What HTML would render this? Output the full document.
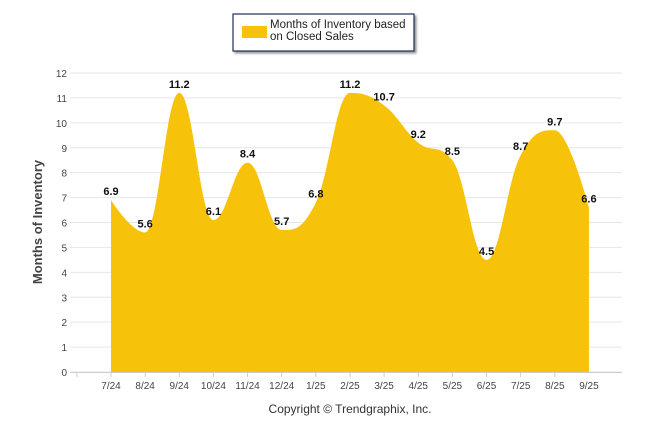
<!DOCTYPE html>
<html><head><meta charset="utf-8"><style>
body{margin:0;background:#fff;width:646px;height:434px;overflow:hidden;font-family:"Liberation Sans",Arial,sans-serif}
</style></head><body>
<svg width="646" height="434" id="c">
<rect x="233" y="14" width="181" height="37" fill="#fff" stroke="#1f3050" stroke-width="1.2" style="filter:drop-shadow(2px 2px 1px #999)"/>
<rect x="242" y="26" width="25" height="12" fill="#f7c30a"/>
<text x="270" y="28" font-size="11.5" fill="#222"><tspan x="270">Months of Inventory based</tspan><tspan x="270" dy="12">on Closed Sales</tspan></text>
<text transform="translate(42,222) rotate(-90)" text-anchor="middle" font-size="13" font-weight="bold" fill="#444">Months of Inventory</text>
<text x="350" y="413" text-anchor="middle" font-size="12" fill="#333">Copyright © Trendgraphix, Inc.</text>
<g id="g"></g><g id="a"></g><g id="l"></g>
</svg>
<script>
const categories=["7/24","8/24","9/24","10/24","11/24","12/24","1/25","2/25","3/25","4/25","5/25","6/25","7/25","8/25","9/25"];
const values=[6.9,5.6,11.2,6.1,8.4,5.7,6.8,11.2,10.7,9.2,8.5,4.5,8.7,9.7,6.6];
const yTicks=[0,1,2,3,4,5,6,7,8,9,10,11,12];
const NS="http://www.w3.org/2000/svg";
const y0=372,yTop=73,x0=111,dx=34.14;
const X=i=>x0+dx*i, Y=v=>y0-(y0-yTop)*v/12;
function mk(t,at,p){const e=document.createElementNS(NS,t);for(const k in at)e.setAttribute(k,at[k]);p.appendChild(e);return e;}
const g=document.getElementById('g'),a=document.getElementById('a'),l=document.getElementById('l');
yTicks.forEach(v=>{
 const ln=mk('line',{x1:70,x2:622,y1:Y(v),y2:Y(v),stroke:'#e6e6e6'},g);
 
 
 const t=mk('text',{x:67,y:Y(v)+4,'text-anchor':'end','font-size':'10',fill:'#444'},g);t.textContent=v;
 
 
});
mk('line',{x1:70,x2:622,y1:y0+0.5,y2:y0+0.5,stroke:'#ccc'},g);
categories.forEach((c,i)=>{
 mk('line',{x1:X(i)-dx,x2:X(i)-dx,y1:y0,y2:y0+5,stroke:'#ccc'},g);
 const t=mk('text',{x:X(i),y:y0+17,'text-anchor':'middle','font-size':'10',fill:'#444'},g);t.textContent=c;
 
 
});
const pts=values.map((v,i)=>[X(i),Y(v)]);
let d=`M${pts[0][0]},${y0} L${pts[0][0]},${pts[0][1]}`;
const sm=1.5,den=sm+1;
function ctrl(i){const p=pts[i],pr=pts[i-1],nx=pts[i+1];
 let lx=(sm*p[0]+pr[0])/den,ly=(sm*p[1]+pr[1])/den,rx=(sm*p[0]+nx[0])/den,ry=(sm*p[1]+nx[1])/den;
 const corr=((ry-ly)*(rx-p[0]))/(rx-lx)+p[1]-ry;ly+=corr;ry+=corr;
 if(ly>pr[1]&&ly>p[1]){ly=Math.max(pr[1],p[1]);ry=2*p[1]-ly;}else if(ly<pr[1]&&ly<p[1]){ly=Math.min(pr[1],p[1]);ry=2*p[1]-ly;}
 if(ry>nx[1]&&ry>p[1]){ry=Math.max(nx[1],p[1]);ly=2*p[1]-ry;}else if(ry<nx[1]&&ry<p[1]){ry=Math.min(nx[1],p[1]);ly=2*p[1]-ry;}
 return [[lx,ly],[rx,ry]];}
const C=pts.map((p,i)=>(i==0||i==pts.length-1)?[p,p]:ctrl(i));
for(let i=1;i<pts.length;i++){d+=` C${C[i-1][1][0]},${C[i-1][1][1]} ${C[i][0][0]},${C[i][0][1]} ${pts[i][0]},${pts[i][1]}`;}
d+=` L${pts[pts.length-1][0]},${y0} Z`;
const ar=mk('path',{d:d,fill:'#f7c30a'},a);


values.forEach((v,i)=>{
 const t=mk('text',{x:X(i),y:Y(v)-5,'text-anchor':'middle','font-size':'11','font-weight':'bold',fill:'#111'},l);t.textContent=v.toFixed(1);
 
 
});
</script>
</body></html>
